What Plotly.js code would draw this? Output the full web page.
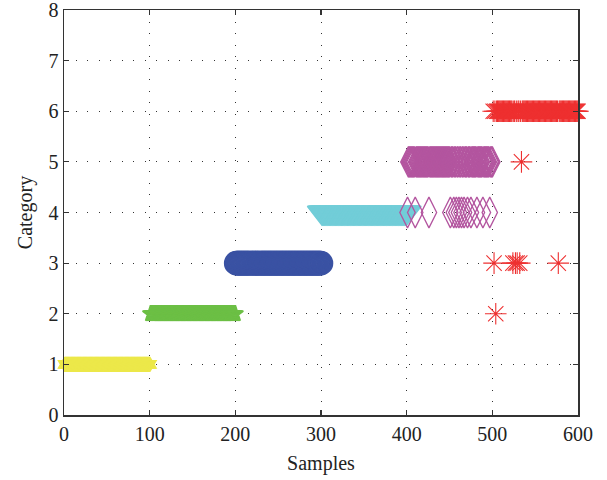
<!DOCTYPE html>
<html>
<head>
<meta charset="utf-8">
<script src="https://cdn.plot.ly/plotly-3.0.1.min.js"></script>
<style>html,body{margin:0;padding:0;background:#fff;}#chart{width:607px;height:480px;}</style>
</head>
<body>
<div id="chart"></div>
<script>
// Sample ranges of each true class and its category
const classNames = ["Class 1", "Class 2", "Class 3", "Class 4", "Class 5", "Class 6"];
const classStart = [1, 101, 201, 301, 401, 501];
const classEnd = [100, 200, 300, 400, 500, 600];
const classCategory = [1, 2, 3, 4, 5, 6];
// Misclassified samples (sample index -> predicted category)
const class5WrongX = [401, 410, 426, 451, 455, 458, 461, 464, 467, 471, 475, 482, 489, 497];
const class5WrongY = [4, 4, 4, 4, 4, 4, 4, 4, 4, 4, 4, 4, 4, 4];
const class6WrongX = [502, 504, 524, 527, 529, 532, 534, 577];
const class6WrongY = [3, 2, 3, 3, 3, 3, 5, 3];
const xTicks = [0, 100, 200, 300, 400, 500, 600];
const yTicks = [0, 1, 2, 3, 4, 5, 6, 7, 8];

const wrongX = [[], [], [], [], class5WrongX, class6WrongX];
const wrongY = [[], [], [], [], class5WrongY, class6WrongY];

const colors = ["#ECE84A", "#6CBF45", "#3A52A3", "#72CDD8", "#B3559F", "#EE3030"];
const symbols = ["hexagram-open", "star-open", "circle-open", "triangle-down-open", "diamond-tall-open", "asterisk-open"];
const sizes = [11, 12, 23, 25, 22, 18];
const lw = [1.6, 1.6, 1.6, 1.6, 1.3, 1.1];

const traces = classNames.map((name, i) => {
  const xs = [], ys = [];
  for (let s = classStart[i]; s <= classEnd[i]; s++) {
    const k = wrongX[i].indexOf(s);
    xs.push(s);
    ys.push(k >= 0 ? wrongY[i][k] : classCategory[i]);
  }
  return {
    type: "scatter", mode: "markers", name: name, x: xs, y: ys,
    cliponaxis: false,
    marker: {symbol: symbols[i], size: sizes[i], color: colors[i],
             line: {color: colors[i], width: lw[i]}},
    hoverinfo: "skip", showlegend: false
  };
});

const font = {family: "Liberation Serif, Times New Roman, serif", size: 20, color: "#222"};
const axisCommon = {
  showline: true, linecolor: "#333", linewidth: 1.5, mirror: "ticks",
  ticks: "inside", ticklen: 5, tickwidth: 1.2, tickcolor: "#333",
  showgrid: true, gridcolor: "#333", gridwidth: 1, griddash: "1px,10.5px",
  zeroline: false, tickfont: font, ticklabeloverflow: "allow"
};

const layout = {
  width: 607, height: 480,
  margin: {l: 64, r: 29, t: 10, b: 65},
  paper_bgcolor: "#fff", plot_bgcolor: "#fff",
  font: font,
  xaxis: Object.assign({}, axisCommon, {
    range: [0, 600], tickvals: xTicks, ticktext: xTicks.map(String),
    title: {text: "Samples", font: font, standoff: 12}
  }),
  yaxis: Object.assign({}, axisCommon, {
    range: [0, 8], tickvals: yTicks, ticktext: yTicks.map(String),
    title: {text: "Category", font: font, standoff: 10}
  })
};

Plotly.newPlot("chart", traces, layout, {staticPlot: true, displayModeBar: false});
</script>
</body>
</html>
